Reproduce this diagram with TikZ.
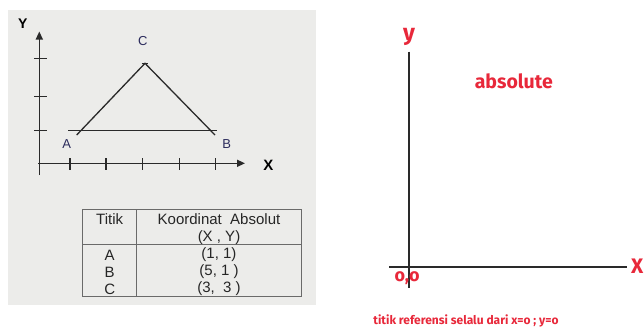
\documentclass[tikz,border=0pt]{standalone}
\usepackage{fontspec}
\setmainfont{Liberation Sans}
\newfontfamily\redfont{Fira Sans}
\usetikzlibrary{arrows.meta}
\definecolor{panelbg}{HTML}{ECECEA}
\definecolor{axisgray}{HTML}{2A2A2A}
\definecolor{tblgray}{HTML}{6A6A6A}
\definecolor{navy}{HTML}{2B2B5C}
\definecolor{redtxt}{HTML}{E8283A}
\tikzset{
  axisline/.style={draw=axisgray, line width=1.4pt},
  tickline/.style={draw=axisgray, line width=1.3pt},
  triline/.style={draw=axisgray, line width=1.3pt},
  tblline/.style={draw=tblgray, line width=1.3pt},
  tbltext/.style={inner sep=0pt, font=\fontsize{15}{17}\selectfont, text=black!85},
  ptlabel/.style={inner sep=0pt, font=\fontsize{13}{15}\selectfont, text=navy},
  axlabel/.style={inner sep=0pt, font=\fontsize{14}{16}\selectfont\bfseries, text=black},
  rightaxis/.style={draw=axisgray, line width=2.2pt},
  redlabel/.style={inner sep=0pt, text=redtxt, font=\redfont\bfseries},
}
\begin{document}
\begin{tikzpicture}[x=1pt, y=-1pt]
\useasboundingbox (0,0) rectangle (644,327);
\fill[white] (0,0) rectangle (644,327);
% left panel background
\fill[panelbg] (8,10) rectangle (316,305);

% left axes
\coordinate (ybot) at (39.3,175);
\coordinate (ytip) at (39.3,31.5);
\coordinate (xbeg) at (38,163.3);
\coordinate (xtip) at (245,163.3);
\draw[axisline, -{Triangle[length=8pt, width=7pt]}] (ybot) -- (ytip);
\draw[axisline, -{Triangle[length=8pt, width=7pt]}] (xbeg) -- (xtip);
% x ticks
\foreach \x [count=\i] in {70,106,142.7,179.3,215.3} {
  \coordinate (xt\i a) at (\x,158);
  \coordinate (xt\i b) at (\x,170);
  \draw[tickline] (xt\i a) -- (xt\i b);
}
% y ticks
\foreach \y [count=\i] in {130.7,96.7,58.3} {
  \coordinate (yt\i a) at (34,\y);
  \coordinate (yt\i b) at (46.5,\y);
  \draw[tickline] (yt\i a) -- (yt\i b);
}
% triangle
\coordinate (ptA) at (76.7,135);
\coordinate (ptB) at (215,135);
\coordinate (ptC) at (145,63.3);
\coordinate (abL) at (68,130.7);
\coordinate (abR) at (216.7,130.7);
\coordinate (cL) at (141.7,63.3);
\coordinate (cR) at (148.3,63.3);
\draw[triline] (abL) -- (abR);
\draw[triline] (ptA) -- (ptC) -- (ptB);
\draw[triline] (cL) -- (cR);

% labels
\node[axlabel, font=\fontsize{14}{16}\selectfont\bfseries] (lY) at (22.7,23.3) {Y};
\node[axlabel, font=\fontsize{15}{17}\selectfont\bfseries] (lX) at (268.3,165) {X};
\node[ptlabel] (lA) at (66.7,144) {A};
\node[ptlabel] (lB) at (226.7,144) {B};
\node[ptlabel] (lC) at (142.7,40.7) {C};

% table
\coordinate (tNW) at (82.7,209.3);
\coordinate (tSE) at (301.5,296.5);
\coordinate (tColT) at (136.7,209.3);
\coordinate (tColB) at (136.7,296.5);
\coordinate (tRowL) at (82.7,244.3);
\coordinate (tRowR) at (301.5,244.3);
\draw[tblline] (tNW) rectangle (tSE);
\draw[tblline] (tColT) -- (tColB);
\draw[tblline] (tRowL) -- (tRowR);
\node[tbltext] (hTitik) at (109.7,219.5) {Titik};
\node[tbltext] (hKoord) at (219,219) {Koordinat\ \ Absolut};
\node[tbltext] (hXY) at (219,237.5) {(X , Y)};
\node[tbltext] (rA) at (109.7,255) {A};
\node[tbltext] (rB) at (109.7,272) {B};
\node[tbltext] (rC) at (109.7,289) {C};
\node[tbltext] (cA) at (219,255) {(1, 1)};
\node[tbltext] (cB) at (219,272) {(5, 1 )};
\node[tbltext] (cC) at (219,289) {(3,\ \ 3 )};

% right panel
\coordinate (ry1) at (409,51.7);
\coordinate (ry2) at (409,288.3);
\coordinate (rx1) at (389.3,266.7);
\coordinate (rx2) at (627.3,266.7);
\draw[rightaxis] (ry1) -- (ry2);
\draw[rightaxis] (rx1) -- (rx2);
\node[redlabel, font=\redfont\bfseries\fontsize{23}{25}\selectfont] (ry) at (409,37) {y};
\node[redlabel, font=\redfont\bfseries\fontsize{21}{23}\selectfont, anchor=east] (rx) at (643.5,266.7) {X};
\node[redlabel, font=\redfont\bfseries\fontsize{19.5}{22}\selectfont] (rabs) at (513.8,81) {absolute};
\node[redlabel, font=\redfont\bfseries\fontsize{18}{20}\selectfont] (rorig) at (407,278.5) {o,o};
\node[redlabel, font=\redfont\bfseries\fontsize{12}{14}\selectfont] (rnote) at (466,320.5) {titik referensi selalu dari x=o ; y=o};
\end{tikzpicture}
\end{document}
